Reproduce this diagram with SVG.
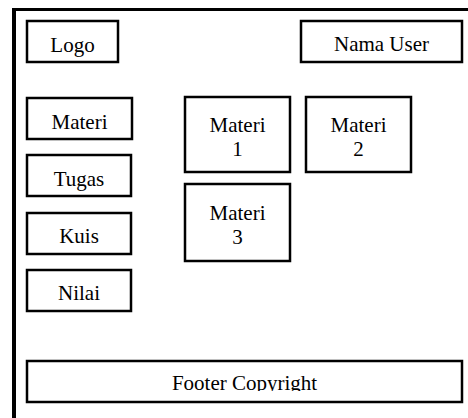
<svg xmlns="http://www.w3.org/2000/svg" width="468" height="418" viewBox="0 0 468 418">
<style>
.box{fill:#fff;stroke:#000;stroke-width:2.5}
.frame{stroke:#000;fill:none}
</style>
<defs>
<clipPath id="footclip"><rect x="26" y="360" width="437" height="31"/></clipPath>
</defs>
<rect width="468" height="418" fill="#fff"/>
<g id="frame">
<line class="frame" x1="12" y1="9.5" x2="468" y2="9.5" stroke-width="3"/>
<line class="frame" x1="14" y1="8" x2="14" y2="418" stroke-width="4"/>
</g>
<g id="connectors"></g>
<g font-family="Liberation Serif" font-size="21" text-anchor="middle" fill="#000">
<g id="logo"><rect class="box" x="27" y="21" width="91" height="41"/><text x="72.5" y="52">Logo</text></g>
<g id="nama-user"><rect class="box" x="301" y="21" width="161" height="41"/><text x="381.5" y="51">Nama User</text></g>
<g id="menu-materi"><rect class="box" x="27" y="98" width="105" height="41"/><text x="79.5" y="129">Materi</text></g>
<g id="menu-tugas"><rect class="box" x="27" y="155" width="104" height="41"/><text x="79" y="186">Tugas</text></g>
<g id="menu-kuis"><rect class="box" x="27" y="213" width="104" height="41"/><text x="79" y="243">Kuis</text></g>
<g id="menu-nilai"><rect class="box" x="27" y="270" width="104" height="41"/><text x="79" y="300">Nilai</text></g>
<g id="materi-1"><rect class="box" x="185" y="97" width="105" height="75"/><text x="237.5" y="132">Materi</text><text x="237.5" y="155.5">1</text></g>
<g id="materi-2"><rect class="box" x="306" y="97" width="105" height="75"/><text x="358.5" y="132">Materi</text><text x="358.5" y="155.5">2</text></g>
<g id="materi-3"><rect class="box" x="185" y="184" width="105" height="77"/><text x="237.5" y="219.5">Materi</text><text x="237.5" y="243.5">3</text></g>
<g id="footer"><rect class="box" x="27" y="361" width="435" height="41"/><text x="244.5" y="390" clip-path="url(#footclip)">Footer Copyright</text></g>
</g>
</svg>
